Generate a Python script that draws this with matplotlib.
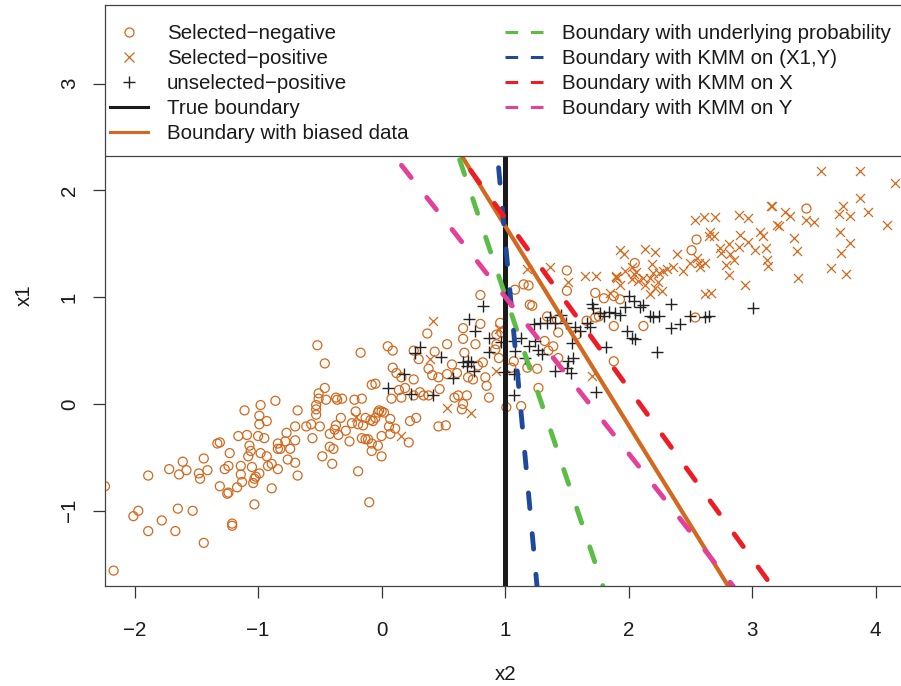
import matplotlib
matplotlib.use('Agg')
import matplotlib.pyplot as plt
import matplotlib.transforms as mtransforms
from matplotlib.lines import Line2D
from matplotlib.patches import Rectangle

plt.rcParams['font.family'] = ['Liberation Sans', 'DejaVu Sans']

# ---------------- data ----------------
# Selected-negative (x2, x1)
neg_x2 = [-2.24, -2.17, -1.89, -2.01, -1.97, -1.89, -1.78, -1.72, -1.64, -1.61, -1.58, -1.65, -1.67, -1.53,
          -1.48, -1.47, -1.44, -1.41, -1.44, -1.33, -1.31, -1.23, -1.31, -1.25, -1.24, -1.27, -1.24, -1.21,
          -1.21, -1.11, -1.16, -1.09, -1.14, -1.14, -1.17, -1.13, -1.07, -1.08, -1.06, -1.04, -1.03, -1.02,
          -1.03, -1.05, -0.98, -0.99, -0.99, -1.00, -0.95, -0.93, -0.86, -0.98, -0.93, -0.99, -0.89, -0.92,
          -0.89, -0.84, -0.84, -0.82, -0.84, -0.77, -0.78, -0.76, -0.74, -0.70, -0.70, -0.70, -0.68, -0.68,
          -0.52, -0.46, -0.17, 0.05, 0.09, 0.09, 0.12, -0.08, -0.05, 0.08, 0.14, -0.46, -0.51, -0.51, -0.45,
          -0.53, -0.53, -0.53, -0.37, -0.36, -0.32, -0.22, -0.16, -0.61, -0.57, -0.50, -0.56, -0.48, -0.40,
          -0.42, -0.39, -0.42, -0.38, -0.37, -0.33, -0.35, -0.29, -0.26, -0.24, -0.21, -0.19, -0.15, -0.16,
          -0.13, -0.11, -0.13, -0.09, -0.07, -0.05, -0.03, 0.00, 0.02, -0.02, 0.07, 0.06, 0.11, -0.08, -0.03,
          -0.08, 0.00, 0.00, 0.07, -0.19, -0.10,
          0.80, 0.37, 0.26, 0.30, 0.43, 0.16, 0.26, 0.38, 0.41, 0.46, 0.53, 0.57, 0.61, 0.66, 0.66, 0.80,
          0.76, 0.67, 0.70, 0.82, 0.78, 0.74, 0.84, 0.85, 0.87, 0.92, 0.95, 0.96, 0.97, 0.93, 0.93, 0.16,
          0.19, 0.26, 0.31, 0.34, 0.38, 0.47, 0.59, 0.62, 0.69, 0.66, 0.65, 0.53, 0.23, 0.28, 0.46, 0.52,
          0.22,
          1.50, 1.50, 1.73, 1.80, 1.88, 1.93, 2.05, 1.15, 1.19, 1.08, 1.20, 1.22, 1.34, 1.42, 1.43, 1.32,
          1.39, 1.35, 1.43, 1.58, 1.73, 1.76, 1.66, 1.88, 1.88, 1.26, 1.18, 1.13, 1.05, 1.07, 1.27, 1.01,
          2.55, 2.51, 2.54, 2.12, 3.44]
neg_x1 = [-0.77, -1.56, -0.67, -1.05, -1.00, -1.19, -1.09, -0.61, -0.66, -0.54, -0.62, -0.98, -1.19, -1.00,
          -0.65, -0.70, -0.51, -0.62, -1.30, -0.37, -0.36, -0.46, -0.77, -0.84, -0.83, -0.61, -0.58, -1.14,
          -1.12, -0.06, -0.30, -0.29, -0.58, -0.66, -0.78, -0.73, -0.39, -0.49, -0.44, -0.74, -0.70, -0.68,
          -0.94, -0.59, -0.01, -0.11, -0.19, -0.30, -0.32, -0.16, 0.03, -0.46, -0.49, -0.65, -0.79, -0.58,
          -0.56, -0.61, -0.42, -0.42, -0.37, -0.27, -0.35, -0.52, -0.42, -0.21, -0.34, -0.55, -0.06, -0.67,
          0.55, 0.38, 0.48, 0.54, 0.50, 0.34, 0.29, 0.18, 0.19, 0.05, 0.13, 0.15, 0.10, 0.05, 0.04,
          -0.01, -0.05, -0.10, 0.06, 0.04, 0.05, 0.04, 0.05, -0.21, -0.19, -0.21, -0.32, -0.49, -0.56,
          -0.40, -0.42, -0.28, -0.24, -0.20, -0.13, -0.29, -0.25, -0.35, -0.18, -0.07, -0.19, -0.20, -0.32,
          -0.33, -0.33, -0.13, -0.15, -0.16, -0.13, -0.08, -0.07, -0.08, -0.06, -0.14, -0.21, -0.23, -0.37, -0.39,
          -0.44, -0.49, -0.30, -0.28, -0.63, -0.92,
          1.02, 0.66, 0.50, 0.42, 0.49, 0.25, 0.23, 0.33, 0.27, 0.25, 0.28, 0.37, 0.29, 0.71, 0.61, 0.75,
          0.56, 0.48, 0.25, 0.39, 0.36, 0.23, 0.25, 0.17, 0.06, 0.51, 0.43, 0.76, 0.67, 0.65, 0.56, 0.06,
          0.15, 0.08, 0.11, 0.08, 0.08, 0.14, 0.06, 0.08, 0.08, 0.00, -0.05, 0.56, -0.16, -0.13, -0.21, -0.20,
          -0.36,
          1.25, 1.06, 1.04, 0.99, 1.01, 0.98, 1.32, 1.12, 1.11, 1.07, 0.93, 0.92, 0.82, 0.79, 0.67, 0.59,
          0.54, 0.50, 0.43, 0.65, 0.81, 0.82, 0.78, 0.73, 0.40, 0.33, 0.34, -0.02, 0.34, 0.40, 0.15, -0.03,
          1.54, 1.44, 0.81, 0.73, 1.83]

# Selected-positive (x2, x1)
pos_x2 = [-0.21, 0.42, 0.39, 0.53, 0.72, 0.16, 0.93, 0.95,
          1.36, 1.18, 1.65, 1.74, 1.90, 1.97, 2.03, 2.08, 2.12, 1.51, 1.85, 1.93, 1.70,
          2.03, 2.04, 2.06, 1.93, 1.96, 1.90, 1.91,
          2.54, 2.61, 2.70, 2.89, 2.97, 3.15, 3.20, 3.06, 3.09, 2.66, 2.69, 2.65, 2.90, 2.97, 2.89, 2.81,
          2.74, 2.75, 2.82, 2.85, 2.79, 2.81, 3.11, 3.12, 3.13, 3.02, 2.94, 2.62, 2.67, 2.13, 2.21, 2.39,
          2.44, 2.50, 2.57, 2.58, 2.62, 2.55, 2.36, 2.31, 2.25, 2.28, 2.19, 2.20, 2.17, 2.24, 2.21, 2.27,
          2.13, 2.17,
          3.56, 3.87, 4.16, 3.87, 3.74, 3.70, 3.79, 3.94, 4.09, 3.16, 3.27, 3.31, 3.22, 3.44, 3.50, 3.34,
          3.36, 3.71, 3.79, 3.72, 3.64, 3.76, 3.37]
pos_x1 = [-0.12, 0.78, 0.42, -0.04, -0.08, -0.30, 0.31, 0.70,
          1.28, 1.26, 1.20, 1.20, 1.20, 1.25, 1.17, 1.15, 1.18, 1.14, 1.04, 1.11, 0.26,
          1.28, 1.22, 1.24, 1.44, 1.40, 1.19, 1.18,
          1.72, 1.75, 1.75, 1.77, 1.74, 1.85, 1.68, 1.61, 1.57, 1.61, 1.57, 1.57, 1.58, 1.52, 1.47, 1.50,
          1.46, 1.41, 1.40, 1.35, 1.30, 1.21, 1.46, 1.35, 1.29, 1.44, 1.11, 1.03, 1.04, 1.45, 1.42, 1.40,
          1.25, 1.32, 1.32, 1.28, 1.32, 1.37, 1.28, 1.26, 1.23, 1.25, 1.31, 1.23, 1.18, 1.14, 1.09, 1.06,
          1.11, 1.03,
          2.18, 2.18, 2.07, 1.93, 1.85, 1.78, 1.76, 1.80, 1.68, 1.85, 1.80, 1.76, 1.67, 1.72, 1.70, 1.55,
          1.43, 1.61, 1.51, 1.41, 1.27, 1.22, 1.18]

# Unselected-positive (x2, x1)
unsel_x2 = [0.05, 0.82, 0.71, 0.76, 0.87, 0.87, 0.31, 0.27, 0.48, 0.66, 0.70, 0.72, 0.69, 0.75, 0.18,
            0.58, 0.24, 0.42, 0.99, 0.97,
            1.70, 1.71, 2.00, 2.04, 2.09, 2.12, 1.97, 1.77, 1.84, 1.89, 1.93, 1.80, 1.66, 1.69, 1.57, 1.45,
            1.40, 1.34, 1.28, 1.23, 1.36, 1.49, 1.61, 1.99, 2.03, 2.05, 1.82, 1.54, 1.51, 1.55, 1.40, 1.50,
            1.53, 1.13, 1.24, 1.27, 1.19, 1.30, 1.16, 1.08, 1.07, 1.07, 1.74, 1.07,
            2.34, 2.25, 2.20, 2.17, 2.42, 2.34, 2.50, 2.65, 2.62, 3.01, 2.23]
unsel_x1 = [0.15, 0.92, 0.80, 0.68, 0.62, 0.49, 0.53, 0.48, 0.44, 0.39, 0.40, 0.39, 0.36, 0.31, 0.28,
            0.24, 0.09, 0.08, 0.30, 0.58,
            0.94, 0.90, 1.01, 0.96, 0.91, 0.93, 0.91, 0.85, 0.86, 0.85, 0.83, 0.82, 0.76, 0.72, 0.72, 0.83,
            0.76, 0.76, 0.76, 0.75, 0.81, 0.76, 0.68, 0.68, 0.62, 0.61, 0.53, 0.57, 0.40, 0.43, 0.31, 0.34,
            0.29, 0.62, 0.59, 0.51, 0.54, 0.47, 0.43, 0.50, 0.59, 0.28, 0.11, 0.08,
            0.94, 0.82, 0.81, 0.82, 0.75, 0.71, 0.82, 0.82, 0.81, 0.90, 0.49]

true_boundary_x2 = 1.0

# fitted boundaries: x1 = intercept + slope * x2
boundary_labels = ["Boundary with biased data", "Boundary with underlying probability",
                   "Boundary with KMM on (X1,Y)", "Boundary with KMM on X", "Boundary with KMM on Y"]
boundary_intercepts = [3.535, 4.46, 14.15, 3.336, 2.471]
boundary_slopes = [-1.867, -3.44, -12.6, -1.595, -1.467]
boundary_colors = ["#D2691E", "#5CBD45", "#1F4A9C", "#EE1C25", "#E4409A"]
boundary_dashed = [False, True, True, True, True]

point_labels = ["Selected\u2212negative", "Selected\u2212positive", "unselected\u2212positive"]
ORANGE = "#D2691E"
TXT = "#1a1a1a"
FS = 14.8

# ---------------- figure ----------------
W, H = 901, 686
fig = plt.figure(figsize=(W / 100, H / 100), dpi=100)
left_px, right_px, top_px, bottom_px = 104.6, 906.5, 5, 586
ax = fig.add_axes([left_px / W, (H - bottom_px) / H, (right_px - left_px) / W, (bottom_px - top_px) / H])

ax.scatter(neg_x2, neg_x1, s=42, facecolors='none', edgecolors=ORANGE, linewidths=0.9, zorder=2)
ax.scatter(pos_x2, pos_x1, s=42, marker='x', c=ORANGE, linewidths=0.9, zorder=2)
ax.scatter(unsel_x2, unsel_x1, s=64, marker='+', c='#222222', linewidths=1.0, zorder=2)

ax.axvline(true_boundary_x2, color='#1a1a1a', lw=3.6, zorder=3)
for lab, a, b, col, dsh in zip(boundary_labels, boundary_intercepts, boundary_slopes,
                               boundary_colors, boundary_dashed):
    if dsh:
        ln = ax.axline((0, a), slope=b, color=col, lw=3.5, zorder=3, dash_capstyle='round')
        ln.set_dashes([3.2, 5.2])
    else:
        ax.axline((0, a), slope=b, color=col, lw=3.0, zorder=3)

ax.set_xlim(-2.243, (right_px - 381.6) / 123.5)
ax.set_ylim((404 - bottom_px) / 106.8, (404 - top_px) / 106.8)

ax.set_xticks([-2, -1, 0, 1, 2, 3, 4])
ax.set_yticks([-1, 0, 1, 2, 3])
ax.tick_params(axis='both', direction='out', length=8.6, width=0.9, color='#333333',
               labelsize=FS, labelcolor=TXT)
ax.tick_params(axis='x', pad=16.5)
ax.tick_params(axis='y', pad=10)
for lbl in ax.get_yticklabels():
    lbl.set_rotation(90)
    lbl.set_va('center')
for sp in ax.spines.values():
    sp.set_color('#444444')
    sp.set_linewidth(0.9)
    sp.set_zorder(6)

ax.set_xlabel('x2', fontsize=FS, color=TXT, labelpad=18.4)
ax.set_ylabel('x1', fontsize=FS, color=TXT, labelpad=19)

# ---------------- legend ----------------
# white legend panel across the top of the plot
trans = mtransforms.blended_transform_factory(ax.transAxes, ax.transData)
legend_bottom = (404 - 156) / 106.8
ax.add_patch(Rectangle((-0.01, legend_bottom), 1.05, 10, transform=trans, facecolor='white',
                       edgecolor='#444444', lw=0.9, zorder=4))

h1 = [
    Line2D([], [], ls='none', marker='o', mfc='none', mec=ORANGE, ms=6.5, mew=0.9),
    Line2D([], [], ls='none', marker='x', color=ORANGE, ms=6.5, mew=0.9),
    Line2D([], [], ls='none', marker='+', color='#222222', ms=8, mew=1.0),
    Line2D([], [], color='#1a1a1a', lw=2.2),
    Line2D([], [], color=boundary_colors[0], lw=2.2),
]
l1 = point_labels + ["True boundary", boundary_labels[0]]
h2 = []
for col in boundary_colors[1:]:
    h = Line2D([], [], color=col, lw=2.2, dash_capstyle='butt')
    h.set_dashes([4.15, 4.15])
    h2.append(h)
l2 = boundary_labels[1:]

common = dict(loc='upper left', bbox_transform=fig.transFigure, fontsize=FS, frameon=False,
              borderaxespad=0, borderpad=0, labelspacing=0.29, numpoints=1,
              handlelength=1.85, handletextpad=0.92)
leg1 = ax.legend(h1, l1, bbox_to_anchor=(110 / W, 1 - 24 / H), **common)
leg1.set_zorder(5)
ax.add_artist(leg1)
leg2 = ax.legend(h2, l2, bbox_to_anchor=(505 / W, 1 - 24 / H), **common)
leg2.set_zorder(5)
for lg in (leg1, leg2):
    for t in lg.get_texts():
        t.set_color(TXT)

fig.savefig('out.png', dpi=100)
